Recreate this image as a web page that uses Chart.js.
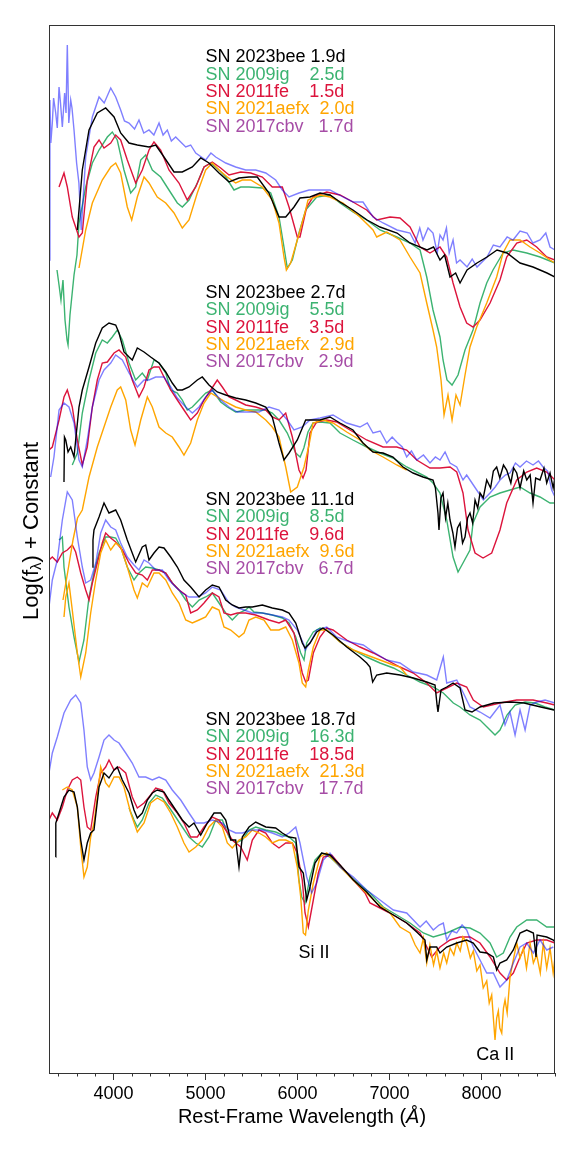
<!DOCTYPE html>
<html>
<head>
<meta charset="utf-8">
<script src="https://cdn.jsdelivr.net/npm/chart.js@4.4.1/dist/chart.umd.min.js"></script>
<style>
  html, body { margin: 0; padding: 0; background: #fff; }
  canvas { display: block; }
</style>
</head>
<body>
<canvas id="spectra" width="576" height="1152"></canvas>
<script>
// wavelength ticks
var xTicks = [4000, 5000, 6000, 7000, 8000];

// legend text, one block per epoch (black, green, red, orange, purple)
var legendRows = [
  ['SN 2023bee 1.9d', 'SN 2009ig    2.5d', 'SN 2011fe    1.5d', 'SN 2021aefx  2.0d', 'SN 2017cbv   1.7d'],
  ['SN 2023bee 2.7d', 'SN 2009ig    5.5d', 'SN 2011fe    3.5d', 'SN 2021aefx  2.9d', 'SN 2017cbv   2.9d'],
  ['SN 2023bee 11.1d', 'SN 2009ig    8.5d', 'SN 2011fe    9.6d', 'SN 2021aefx  9.6d', 'SN 2017cbv   6.7d'],
  ['SN 2023bee 18.7d', 'SN 2009ig    16.3d', 'SN 2011fe    18.5d', 'SN 2021aefx  21.3d', 'SN 2017cbv   17.7d']
];
var legendTop = [10.155, 7.80, 5.73, 3.53];

// [wavelength, log flux + constant]
var bee19 = [[3608,8.43],[3662,9.03],[3735,9.43],[3825,9.60],[3916,9.65],[4007,9.56],[4079,9.40],[4170,9.30],[4260,9.28],[4387,9.26],[4460,9.28],[4550,9.16],[4659,9.01],[4749,9.01],[4858,9.06],[4949,9.15],[5039,9.10],[5148,9.00],[5257,8.91],[5365,8.95],[5474,8.96],[5564,8.96],[5691,8.80],[5800,8.56],[5873,8.56],[5963,8.66],[6028,8.75],[6137,8.76],[6246,8.80],[6354,8.78],[6463,8.71],[6604,8.63],[6757,8.53],[6898,8.46],[7083,8.40],[7224,8.30],[7409,8.23],[7480,8.26],[7550,8.13],[7600,8.18],[7659,7.96],[7720,8.00],[7768,7.90],[7844,8.03],[7952,8.10],[8061,8.16],[8170,8.23],[8278,8.20],[8420,8.10],[8561,8.06],[8713,8.00],[8800,7.96]];
var ig25 = [[3387,8.03],[3409,7.88],[3430,7.73],[3452,7.93],[3474,7.53],[3496,7.33],[3507,7.28],[3528,7.58],[3550,7.78],[3572,7.98],[3604,8.18],[3626,8.50],[3699,8.86],[3771,9.10],[3844,9.23],[3934,9.36],[3988,9.41],[4042,9.33],[4115,9.03],[4188,8.80],[4242,8.86],[4297,9.13],[4351,9.18],[4423,9.03],[4514,8.96],[4604,8.83],[4695,8.70],[4749,8.66],[4822,8.73],[4912,8.90],[4985,9.06],[5058,9.10],[5148,9.03],[5221,8.96],[5311,8.83],[5384,8.86],[5474,8.86],[5619,8.85],[5710,8.80],[5800,8.56],[5854,8.26],[5890,8.05],[5945,8.13],[6017,8.40],[6090,8.63],[6210,8.76],[6354,8.78],[6463,8.70],[6604,8.61],[6753,8.53],[6898,8.43],[7080,8.36],[7224,8.30],[7333,8.23],[7406,7.96],[7474,7.63],[7550,7.36],[7583,7.13],[7626,6.93],[7681,6.88],[7746,6.98],[7822,7.23],[7909,7.43],[7985,7.70],[8058,7.90],[8126,8.03],[8235,8.20],[8344,8.23],[8493,8.20],[8637,8.16],[8800,8.10]];
var fe15 = [[3409,8.86],[3463,9.00],[3499,8.86],[3553,8.56],[3626,8.36],[3662,8.40],[3716,8.93],[3789,9.26],[3844,9.33],[3898,9.25],[3971,9.30],[4025,9.38],[4079,9.33],[4151,9.13],[4242,8.90],[4314,9.03],[4387,9.23],[4441,9.31],[4514,9.23],[4604,9.03],[4713,8.90],[4803,8.73],[4895,8.86],[4985,9.06],[5075,9.11],[5166,9.05],[5257,8.98],[5384,9.01],[5492,9.00],[5619,8.96],[5727,8.86],[5836,8.86],[5909,8.66],[5999,8.36],[6028,8.36],[6101,8.66],[6170,8.76],[6319,8.81],[6463,8.78],[6604,8.71],[6753,8.63],[6862,8.53],[7007,8.56],[7115,8.55],[7224,8.46],[7333,8.26],[7441,8.20],[7550,8.26],[7623,8.16],[7692,7.90],[7768,7.66],[7840,7.50],[7909,7.46],[7985,7.53],[8094,7.70],[8202,7.93],[8275,8.16],[8384,8.30],[8493,8.33],[8601,8.26],[8710,8.16],[8800,8.13]];
var aefx20 = [[3626,8.05],[3699,8.43],[3771,8.70],[3879,8.93],[3971,9.06],[4025,9.10],[4079,9.00],[4151,8.66],[4199,8.53],[4260,8.76],[4333,8.96],[4387,8.90],[4477,8.76],[4569,8.70],[4659,8.60],[4749,8.45],[4822,8.53],[4912,8.80],[5003,9.03],[5075,9.10],[5148,9.03],[5238,8.96],[5329,8.90],[5401,8.93],[5492,8.93],[5619,8.86],[5727,8.73],[5800,8.50],[5854,8.16],[5880,8.03],[5927,8.10],[5999,8.33],[6090,8.63],[6115,8.73],[6246,8.78],[6354,8.76],[6496,8.70],[6680,8.56],[6822,8.43],[6862,8.36],[6971,8.41],[7115,8.33],[7224,8.16],[7333,8.00],[7406,7.70],[7474,7.43],[7514,7.26],[7561,6.93],[7594,6.58],[7637,6.78],[7681,6.53],[7724,6.78],[7768,6.68],[7822,6.98],[7876,7.26],[7949,7.46],[8058,7.70],[8166,7.96],[8235,8.20],[8311,8.33],[8420,8.33],[8529,8.26],[8637,8.20],[8746,8.13],[8800,8.10]];
var cbv17 = [[3300,8.13],[3310,9.73],[3320,9.30],[3336,9.50],[3350,9.75],[3373,9.60],[3390,9.45],[3409,9.86],[3425,9.70],[3445,9.46],[3470,9.80],[3485,9.60],[3499,10.28],[3515,9.50],[3536,9.73],[3550,9.65],[3572,9.43],[3600,9.10],[3625,8.90],[3650,8.43],[3699,9.16],[3771,9.56],[3844,9.76],[3900,9.70],[3971,9.85],[4025,9.76],[4079,9.63],[4120,9.52],[4170,9.50],[4230,9.44],[4278,9.53],[4330,9.40],[4387,9.43],[4440,9.38],[4496,9.50],[4540,9.38],[4586,9.43],[4630,9.32],[4677,9.36],[4786,9.26],[4840,9.28],[4895,9.20],[5003,9.13],[5060,9.20],[5112,9.16],[5221,9.10],[5329,9.06],[5438,9.03],[5547,9.03],[5656,9.00],[5764,8.93],[5836,8.83],[5909,8.76],[6017,8.80],[6126,8.83],[6354,8.83],[6496,8.76],[6604,8.71],[6713,8.71],[6822,8.56],[6931,8.50],[7083,8.43],[7224,8.40],[7280,8.30],[7330,8.45],[7365,8.33],[7420,8.45],[7474,8.40],[7520,8.20],[7550,8.38],[7583,8.33],[7620,8.45],[7650,8.20],[7692,8.33],[7730,8.10],[7768,8.13],[7844,8.06],[7900,8.14],[7952,8.06],[8061,8.16],[8130,8.28],[8202,8.26],[8280,8.36],[8344,8.33],[8420,8.42],[8496,8.40],[8560,8.30],[8637,8.33],[8700,8.40],[8746,8.26],[8800,8.23]];

var bee27 = [[3463,5.91],[3468,6.36],[3482,6.33],[3507,6.21],[3536,6.26],[3572,6.16],[3590,6.33],[3626,6.66],[3662,6.83],[3735,7.06],[3808,7.30],[3879,7.45],[3952,7.50],[4025,7.48],[4061,7.40],[4115,7.21],[4170,7.16],[4205,7.13],[4260,7.25],[4333,7.21],[4405,7.16],[4496,7.10],[4569,7.01],[4640,6.90],[4695,6.83],[4749,6.83],[4822,6.86],[4912,6.93],[4966,6.96],[5039,6.88],[5129,6.81],[5221,6.78],[5329,6.75],[5438,6.73],[5547,6.70],[5656,6.66],[5727,6.56],[5800,6.30],[5854,6.13],[5909,6.20],[5999,6.33],[6090,6.53],[6137,6.53],[6246,6.53],[6354,6.56],[6463,6.50],[6604,6.43],[6713,6.30],[6822,6.21],[6931,6.20],[7039,6.16],[7148,6.06],[7257,6.00],[7365,5.96],[7474,5.93],[7500,5.85],[7528,5.60],[7539,5.43],[7560,5.75],[7583,5.80],[7610,5.55],[7635,5.70],[7659,5.53],[7690,5.40],[7713,5.26],[7740,5.45],[7768,5.50],[7795,5.30],[7822,5.36],[7850,5.55],[7876,5.60],[7905,5.50],[7931,5.73],[7960,5.65],[7985,5.80],[8020,5.75],[8058,5.93],[8100,5.85],[8130,6.02],[8166,6.06],[8200,5.95],[8240,6.08],[8275,6.03],[8320,5.90],[8350,6.05],[8384,6.00],[8420,5.85],[8460,6.02],[8493,5.93],[8530,5.98],[8561,5.70],[8590,5.95],[8637,5.93],[8680,6.05],[8710,5.90],[8746,6.00],[8780,5.85],[8800,5.96]];
var ig55 = [[3553,6.08],[3608,6.20],[3662,6.60],[3735,6.93],[3808,7.20],[3879,7.33],[3934,7.30],[3988,7.36],[4042,7.43],[4097,7.33],[4170,7.10],[4242,6.93],[4314,7.00],[4369,6.93],[4441,7.13],[4496,7.10],[4569,7.00],[4623,6.83],[4695,6.80],[4749,6.73],[4803,6.63],[4858,6.66],[4931,6.73],[5003,6.80],[5075,6.83],[5166,6.71],[5238,6.66],[5329,6.61],[5438,6.63],[5547,6.63],[5656,6.63],[5727,6.60],[5800,6.53],[5890,6.40],[5982,6.20],[6030,6.16],[6070,6.25],[6115,6.41],[6170,6.50],[6246,6.51],[6354,6.50],[6463,6.40],[6604,6.33],[6753,6.26],[6898,6.20],[7039,6.15],[7188,6.06],[7297,6.01],[7406,5.96],[7474,5.90],[7550,5.80],[7623,5.53],[7692,5.16],[7746,5.01],[7800,5.10],[7876,5.23],[7909,5.50],[7985,5.66],[8094,5.76],[8202,5.80],[8311,5.83],[8420,5.86],[8529,5.80],[8637,5.76],[8746,5.70],[8800,5.70]];
var fe35 = [[3300,6.23],[3336,6.26],[3409,6.53],[3463,6.76],[3499,6.83],[3553,6.66],[3608,6.33],[3662,6.08],[3716,6.26],[3771,6.66],[3825,6.93],[3879,7.10],[3934,7.11],[4007,7.20],[4061,7.23],[4134,7.16],[4205,6.93],[4278,6.76],[4333,6.86],[4387,7.03],[4441,7.06],[4496,7.06],[4550,6.96],[4623,6.83],[4695,6.73],[4767,6.63],[4840,6.53],[4912,6.60],[4985,6.73],[5058,6.83],[5129,6.93],[5184,6.86],[5257,6.76],[5329,6.73],[5438,6.68],[5547,6.66],[5656,6.63],[5727,6.56],[5800,6.53],[5873,6.60],[5945,6.36],[6017,6.03],[6061,5.95],[6094,6.03],[6137,6.40],[6210,6.51],[6319,6.53],[6427,6.51],[6572,6.43],[6753,6.33],[6931,6.26],[7080,6.26],[7188,6.23],[7297,6.13],[7441,6.05],[7550,6.05],[7659,6.06],[7732,6.01],[7800,5.80],[7855,5.43],[7931,5.20],[8018,5.15],[8112,5.20],[8202,5.43],[8275,5.70],[8384,5.93],[8493,6.01],[8601,6.05],[8710,6.01],[8800,5.93]];
var aefx29 = [[3452,4.73],[3507,5.03],[3561,5.33],[3610,5.55],[3662,5.63],[3735,5.96],[3825,6.26],[3898,6.46],[3971,6.66],[4042,6.83],[4079,6.86],[4134,6.73],[4188,6.43],[4235,6.28],[4297,6.53],[4369,6.76],[4423,6.66],[4496,6.46],[4569,6.40],[4640,6.36],[4713,6.26],[4767,6.18],[4840,6.30],[4912,6.53],[4985,6.70],[5058,6.80],[5129,6.76],[5221,6.71],[5329,6.66],[5438,6.63],[5547,6.61],[5656,6.53],[5727,6.46],[5800,6.36],[5873,6.06],[5927,5.81],[5999,5.86],[6072,6.06],[6126,6.28],[6170,6.50],[6278,6.53],[6387,6.50],[6536,6.41],[6680,6.33],[6789,6.23],[6931,6.16],[7080,6.08],[7188,6.03]];
var cbv29 = [[3318,5.96],[3354,6.16],[3409,6.63],[3463,6.70],[3517,6.66],[3572,6.50],[3626,6.13],[3662,6.06],[3716,6.33],[3771,6.66],[3844,6.93],[3898,7.03],[3971,7.10],[4025,7.18],[4097,7.13],[4170,7.00],[4260,6.86],[4333,6.93],[4387,6.93],[4460,6.96],[4550,6.96],[4623,6.86],[4695,6.75],[4786,6.66],[4858,6.60],[4931,6.66],[5003,6.76],[5075,6.83],[5166,6.73],[5257,6.66],[5347,6.61],[5474,6.61],[5583,6.61],[5691,6.66],[5800,6.63],[5890,6.53],[5963,6.43],[6053,6.46],[6137,6.53],[6246,6.55],[6387,6.58],[6536,6.50],[6680,6.46],[6760,6.50],[6822,6.40],[6900,6.42],[6971,6.30],[7030,6.36],[7080,6.31],[7140,6.26],[7188,6.16],[7240,6.22],[7297,6.13],[7370,6.18],[7441,6.10],[7500,6.16],[7550,6.13],[7605,6.21],[7659,6.10],[7732,6.06],[7800,5.93],[7840,5.98],[7876,5.93],[7949,5.83],[8021,5.73],[8094,5.80],[8150,5.86],[8202,5.93],[8260,5.98],[8311,6.00],[8370,6.10],[8420,6.06],[8490,6.12],[8561,6.08],[8620,6.12],[8670,6.06],[8720,6.02],[8764,5.83],[8800,5.76]];

var bee111 = [[3771,5.06],[3778,5.33],[3789,5.43],[3844,5.56],[3898,5.70],[3952,5.60],[4025,5.63],[4079,5.53],[4151,5.33],[4242,5.11],[4314,5.26],[4351,5.28],[4387,5.13],[4441,5.20],[4496,5.26],[4550,5.25],[4623,5.16],[4695,5.06],[4767,4.93],[4840,4.86],[4931,4.76],[5003,4.83],[5075,4.88],[5148,4.86],[5221,4.73],[5292,4.68],[5365,4.65],[5438,4.66],[5510,4.66],[5619,4.68],[5727,4.65],[5836,4.63],[5909,4.60],[5982,4.50],[6053,4.30],[6083,4.25],[6137,4.30],[6210,4.41],[6278,4.45],[6387,4.38],[6536,4.26],[6680,4.16],[6753,4.10],[6789,4.06],[6818,3.91],[6862,3.98],[6971,4.00],[7115,3.98],[7260,3.95],[7406,3.91],[7496,3.88],[7518,3.68],[7528,3.61],[7561,3.83],[7623,3.86],[7692,3.90],[7768,3.85],[7822,3.63],[7898,3.61],[7985,3.66],[8137,3.70],[8319,3.71],[8464,3.70],[8645,3.66],[8789,3.63]];
var ig85 = [[3409,5.33],[3445,5.36],[3463,5.06],[3517,4.66],[3572,4.36],[3626,4.11],[3680,4.33],[3735,4.76],[3789,5.00],[3844,5.20],[3916,5.36],[3971,5.36],[4025,5.35],[4079,5.26],[4151,5.06],[4224,4.93],[4278,5.00],[4351,5.06],[4423,5.05],[4496,5.03],[4569,5.00],[4640,4.90],[4713,4.83],[4786,4.73],[4858,4.66],[4931,4.73],[5003,4.76],[5075,4.80],[5148,4.70],[5221,4.60],[5292,4.53],[5365,4.60],[5438,4.63],[5474,4.66],[5528,4.61],[5619,4.60],[5727,4.58],[5836,4.55],[5909,4.50],[5982,4.36],[6036,4.20],[6072,4.13],[6101,4.30],[6173,4.41],[6246,4.45],[6319,4.43],[6463,4.31],[6608,4.23],[6753,4.16],[6898,4.10],[7043,4.05],[7188,3.98],[7333,3.91],[7477,3.86],[7586,3.80],[7695,3.70],[7768,3.66],[7876,3.58],[7985,3.53],[8072,3.45],[8148,3.38],[8202,3.43],[8278,3.58],[8366,3.68],[8475,3.71],[8583,3.70],[8692,3.66],[8800,3.63]];
var fe96 = [[3300,5.13],[3336,5.16],[3390,5.11],[3445,5.20],[3499,5.23],[3553,5.28],[3590,5.21],[3645,5.00],[3699,4.83],[3735,4.73],[3771,4.90],[3825,5.10],[3879,5.30],[3916,5.40],[3971,5.35],[4025,5.31],[4097,5.23],[4170,5.10],[4242,5.00],[4314,4.98],[4369,4.93],[4423,5.03],[4496,5.03],[4569,5.00],[4640,4.90],[4713,4.83],[4786,4.78],[4840,4.60],[4912,4.63],[4985,4.70],[5075,4.80],[5148,4.76],[5202,4.60],[5275,4.58],[5347,4.60],[5438,4.60],[5547,4.58],[5691,4.53],[5800,4.50],[5873,4.53],[5963,4.40],[6053,4.00],[6090,3.91],[6119,3.93],[6173,4.20],[6246,4.36],[6319,4.45],[6387,4.43],[6536,4.33],[6680,4.26],[6825,4.20],[6971,4.13],[7115,4.06],[7260,4.00],[7406,3.90],[7514,3.80],[7623,3.85],[7732,3.90],[7840,3.86],[7912,3.73],[8021,3.66],[8202,3.70],[8384,3.73],[8561,3.73],[8710,3.70],[8800,3.68]];
var aefx96 = [[3463,4.56],[3482,4.76],[3517,4.90],[3553,4.63],[3608,4.20],[3645,3.96],[3699,4.20],[3753,4.60],[3808,4.93],[3862,5.20],[3916,5.33],[3971,5.23],[4025,5.30],[4079,5.26],[4151,5.06],[4224,4.83],[4260,4.75],[4314,4.90],[4369,4.86],[4441,5.00],[4496,5.00],[4569,4.93],[4640,4.80],[4713,4.70],[4786,4.53],[4858,4.50],[4931,4.53],[5003,4.56],[5075,4.66],[5148,4.63],[5202,4.46],[5275,4.43],[5365,4.36],[5420,4.40],[5474,4.53],[5547,4.56],[5637,4.53],[5710,4.43],[5800,4.43],[5873,4.46],[5945,4.33],[6017,4.10],[6053,3.90],[6090,3.86],[6119,4.03],[6173,4.26],[6246,4.43],[6319,4.43],[6463,4.31],[6608,4.23],[6753,4.18],[6898,4.13],[7043,4.08],[7115,4.06],[7188,3.98]];
var cbv67 = [[3300,4.66],[3336,4.93],[3390,5.13],[3445,5.53],[3499,5.81],[3553,5.73],[3608,5.36],[3662,5.06],[3699,4.90],[3753,4.93],[3808,5.10],[3862,5.40],[3916,5.53],[3971,5.46],[4025,5.43],[4079,5.30],[4151,5.16],[4224,5.08],[4278,5.03],[4333,5.13],[4387,5.10],[4460,5.03],[4532,5.03],[4604,4.93],[4677,4.86],[4749,4.80],[4822,4.76],[4912,4.76],[5003,4.80],[5075,4.86],[5166,4.83],[5257,4.70],[5329,4.66],[5420,4.63],[5510,4.60],[5619,4.60],[5727,4.58],[5836,4.56],[5909,4.53],[5999,4.43],[6072,4.28],[6083,4.23],[6137,4.30],[6210,4.43],[6319,4.46],[6427,4.36],[6572,4.31],[6716,4.28],[6825,4.21],[6971,4.13],[7115,4.10],[7260,4.01],[7406,3.98],[7514,3.93],[7586,4.16],[7623,3.90],[7732,3.93],[7804,3.80],[7876,3.66],[7985,3.61],[8094,3.55],[8202,3.68],[8257,3.48],[8311,3.61],[8366,3.38],[8420,3.63],[8475,3.43],[8529,3.68],[8605,3.71],[8692,3.73],[8800,3.70]];

var bee187 = [[3373,2.16],[3374,2.50],[3409,2.60],[3463,2.76],[3517,2.83],[3572,2.81],[3608,2.66],[3645,2.33],[3680,2.13],[3716,2.30],[3753,2.40],[3789,2.43],[3844,2.86],[3898,3.00],[3952,2.95],[4007,3.03],[4042,3.06],[4097,2.93],[4170,2.80],[4224,2.63],[4260,2.55],[4314,2.60],[4369,2.73],[4423,2.80],[4477,2.83],[4550,2.81],[4604,2.73],[4677,2.63],[4749,2.53],[4822,2.46],[4876,2.50],[4949,2.38],[5021,2.50],[5094,2.60],[5166,2.60],[5221,2.53],[5275,2.33],[5329,2.33],[5365,2.06],[5401,2.36],[5474,2.46],[5547,2.51],[5656,2.46],[5764,2.45],[5836,2.40],[5909,2.36],[5982,2.35],[6017,2.06],[6064,2.00],[6101,1.73],[6137,1.86],[6191,2.10],[6264,2.20],[6354,2.18],[6463,2.08],[6608,1.93],[6753,1.81],[6898,1.66],[7043,1.58],[7188,1.50],[7297,1.41],[7387,1.33],[7406,1.13],[7441,1.26],[7514,1.26],[7550,1.20],[7623,1.26],[7732,1.30],[7840,1.33],[7912,1.30],[7985,1.21],[8058,1.20],[8130,1.16],[8166,1.03],[8202,1.10],[8275,1.13],[8347,1.23],[8420,1.40],[8493,1.43],[8565,1.40],[8594,1.16],[8605,1.38],[8710,1.36],[8782,1.33],[8800,1.31]];
var ig163 = [[4170,2.65],[4224,2.53],[4260,2.46],[4314,2.53],[4387,2.70],[4460,2.78],[4532,2.75],[4604,2.66],[4677,2.56],[4749,2.46],[4822,2.36],[4895,2.30],[4966,2.26],[5039,2.36],[5112,2.53],[5184,2.53],[5257,2.36],[5329,2.30],[5401,2.33],[5474,2.43],[5547,2.46],[5656,2.43],[5764,2.41],[5836,2.38],[5909,2.36],[5982,2.30],[6017,1.93],[6047,1.76],[6083,1.70],[6137,1.96],[6191,2.13],[6264,2.20],[6354,2.16],[6499,2.03],[6645,1.91],[6789,1.80],[6934,1.66],[7080,1.58],[7224,1.50],[7369,1.40],[7477,1.36],[7623,1.40],[7768,1.46],[7876,1.45],[7985,1.40],[8094,1.30],[8166,1.16],[8238,1.20],[8311,1.36],[8384,1.46],[8493,1.53],[8601,1.53],[8710,1.46],[8800,1.46]];
var fe185 = [[3300,2.53],[3336,2.60],[3390,2.53],[3445,2.66],[3499,2.83],[3553,2.93],[3608,2.96],[3645,2.93],[3680,2.66],[3716,2.46],[3753,2.43],[3808,2.76],[3862,3.00],[3916,3.06],[3952,3.13],[4007,3.03],[4061,3.06],[4134,3.00],[4205,2.76],[4260,2.65],[4333,2.70],[4405,2.78],[4460,2.85],[4532,2.83],[4604,2.70],[4695,2.60],[4767,2.50],[4840,2.36],[4912,2.36],[4985,2.46],[5075,2.56],[5148,2.53],[5221,2.43],[5292,2.33],[5384,2.26],[5455,2.13],[5510,2.33],[5583,2.43],[5656,2.40],[5727,2.30],[5800,2.25],[5873,2.30],[5945,2.30],[5999,2.20],[6053,1.93],[6083,1.60],[6119,1.46],[6173,1.73],[6227,2.00],[6282,2.16],[6373,2.18],[6481,2.06],[6608,1.93],[6735,1.80],[6789,1.70],[6898,1.65],[7043,1.58],[7188,1.50],[7333,1.40],[7460,1.16],[7550,1.26],[7659,1.33],[7768,1.36],[7876,1.36],[7985,1.30],[8094,1.16],[8202,1.00],[8275,0.93],[8347,1.00],[8420,1.16],[8493,1.30],[8601,1.33],[8710,1.33],[8800,1.30]];
var aefx213 = [[3445,2.83],[3499,2.86],[3553,2.83],[3608,2.66],[3645,2.26],[3680,1.96],[3716,2.06],[3753,2.36],[3789,2.50],[3825,2.76],[3862,3.06],[3916,2.90],[3952,2.86],[4007,2.96],[4061,2.96],[4115,2.86],[4188,2.60],[4260,2.41],[4333,2.50],[4405,2.70],[4477,2.75],[4550,2.71],[4623,2.60],[4695,2.46],[4767,2.30],[4822,2.21],[4895,2.26],[4966,2.33],[5039,2.46],[5112,2.53],[5184,2.46],[5238,2.30],[5292,2.25],[5365,2.33],[5438,2.36],[5510,2.43],[5583,2.40],[5656,2.36],[5727,2.30],[5800,2.33],[5873,2.33],[5945,2.30],[5999,2.06],[6036,1.76],[6064,1.40],[6088,1.38],[6119,1.63],[6173,1.90],[6246,2.16],[6319,2.20],[6427,2.10],[6572,1.96],[6716,1.83],[6862,1.70],[7007,1.60],[7115,1.46],[7224,1.40],[7280,1.28],[7333,1.20],[7370,1.35],[7406,1.10],[7440,1.28],[7480,1.08],[7514,1.22],[7550,1.05],[7590,1.20],[7623,1.10],[7660,1.25],[7700,1.18],[7732,1.30],[7770,1.22],[7800,1.36],[7840,1.30],[7880,1.15],[7912,1.22],[7950,1.02],[7985,1.08],[8020,0.85],[8058,0.92],[8085,0.70],[8112,0.78],[8130,0.55],[8148,0.33],[8166,0.55],[8184,0.62],[8200,0.45],[8221,0.40],[8240,0.65],[8257,0.73],[8280,0.60],[8311,0.96],[8340,1.10],[8384,1.30],[8420,1.15],[8457,1.25],[8490,1.05],[8529,1.30],[8565,1.10],[8601,1.18],[8640,1.00],[8673,1.30],[8710,1.05],[8746,1.25],[8780,1.00],[8800,1.16]];
var cbv177 = [[3300,3.00],[3336,3.20],[3390,3.36],[3463,3.60],[3536,3.73],[3590,3.78],[3645,3.70],[3680,3.43],[3716,3.06],[3753,2.93],[3789,3.00],[3844,3.16],[3898,3.33],[3952,3.38],[4007,3.33],[4061,3.30],[4134,3.20],[4205,3.10],[4278,2.96],[4351,2.96],[4423,2.93],[4496,2.96],[4569,2.93],[4640,2.83],[4732,2.73],[4822,2.60],[4895,2.50],[4985,2.50],[5075,2.53],[5184,2.50],[5257,2.43],[5329,2.40],[5401,2.40],[5510,2.43],[5619,2.43],[5727,2.40],[5836,2.36],[5909,2.40],[5982,2.46],[6028,2.30],[6101,1.96],[6155,1.80],[6210,1.90],[6282,2.13],[6354,2.20],[6463,2.06],[6608,1.96],[6753,1.83],[6898,1.73],[7043,1.63],[7188,1.60],[7333,1.46],[7400,1.52],[7477,1.43],[7540,1.48],[7586,1.50],[7623,1.33],[7680,1.42],[7732,1.40],[7790,1.48],[7840,1.43],[7912,1.26],[7985,1.13],[8058,1.00],[8130,1.00],[8202,0.86],[8275,0.93],[8347,1.10],[8420,1.26],[8493,1.30],[8565,1.20],[8637,1.33],[8710,1.23],[8782,1.26]];

// spectrum colours, label colours
var lineColors = ['#000000', '#3cb371', '#dc143c', '#ffa500', 'rgba(0,0,255,0.5)'];
var textColors = ['#000000', '#3cb371', '#dc143c', '#ffa500', 'rgba(128,0,128,0.7)'];

var FONT = '"Liberation Sans", Arial, sans-serif';

function init(){
  var epochs = [
    [bee19, ig25, fe15, aefx20, cbv17],
    [bee27, ig55, fe35, aefx29, cbv29],
    [bee111, ig85, fe96, aefx96, cbv67],
    [bee187, ig163, fe185, aefx213, cbv177]
  ];
  // black on top, then blue, orange, red, green underneath
  var drawOrder = [0, 4, 3, 2, 1];

  var datasets = [];
  epochs.forEach(function(group){
    group.forEach(function(spec, i){
      datasets.push({
        data: spec.map(function(p){ return {x: p[0], y: p[1]}; }),
        borderColor: lineColors[i],
        borderWidth: 1.4,
        pointRadius: 0,
        fill: false,
        tension: 0,
        order: drawOrder[i]
      });
    });
  });

  createSpectraChart(datasets);
}

var decor = {
  id: 'decor',
  afterDraw: function(chart){
    var ctx = chart.ctx;
    var a = chart.chartArea;
    var x = chart.scales.x;
    var y = chart.scales.y;
    ctx.save();

    // frame
    ctx.strokeStyle = '#333';
    ctx.lineWidth = 1;
    ctx.strokeRect(a.left + 0.5, a.top + 0.5, a.right - a.left - 1, a.bottom - a.top);

    // minor ticks every 200 A
    ctx.beginPath();
    for (var w = 3400; w <= 8800; w += 200) {
      if (w % 1000 === 0) continue;
      var px = Math.round(x.getPixelForValue(w)) + 0.5;
      ctx.moveTo(px, a.bottom);
      ctx.lineTo(px, a.bottom + 3.5);
    }
    ctx.stroke();

    // legend blocks
    ctx.font = '18px ' + FONT;
    ctx.textAlign = 'left';
    ctx.textBaseline = 'middle';
    legendRows.forEach(function(rows, g){
      var top = y.getPixelForValue(legendTop[g]);
      rows.forEach(function(t, i){
        ctx.fillStyle = textColors[i];
        ctx.fillText(t, x.getPixelForValue(5000), top + i * 17.3);
      });
    });

    // line ids
    ctx.fillStyle = '#000';
    ctx.textAlign = 'center';
    ctx.fillText('Si II', x.getPixelForValue(6180), y.getPixelForValue(1.20));
    ctx.fillText('Ca II', x.getPixelForValue(8150), y.getPixelForValue(0.18));

    // x title with italic angstrom
    var cx = (a.left + a.right) / 2;
    var ty = 1117;
    ctx.font = '20px ' + FONT;
    var p1 = 'Rest-Frame Wavelength (';
    var p3 = ')';
    var w1 = ctx.measureText(p1).width;
    var w3 = ctx.measureText(p3).width;
    ctx.font = 'italic 20px ' + FONT;
    var w2 = ctx.measureText('Å').width;
    var sx = cx - (w1 + w2 + w3) / 2;
    ctx.textAlign = 'left';
    ctx.font = '20px ' + FONT;
    ctx.fillText(p1, sx, ty);
    ctx.font = 'italic 20px ' + FONT;
    ctx.fillText('Å', sx + w1, ty);
    ctx.font = '20px ' + FONT;
    ctx.fillText(p3, sx + w1 + w2, ty);

    // y title with subscript lambda
    ctx.translate(32, 531);
    ctx.rotate(-Math.PI / 2);
    var q1 = 'Log(f';
    var q3 = ') + Constant';
    ctx.font = '22px ' + FONT;
    var v1 = ctx.measureText(q1).width;
    var v3 = ctx.measureText(q3).width;
    ctx.font = '15px ' + FONT;
    var v2 = ctx.measureText('λ').width;
    var s = -(v1 + v2 + v3) / 2;
    ctx.font = '22px ' + FONT;
    ctx.fillText(q1, s, 0);
    ctx.font = '15px ' + FONT;
    ctx.fillText('λ', s + v1, 5);
    ctx.font = '22px ' + FONT;
    ctx.fillText(q3, s + v1 + v2, 0);

    ctx.restore();
  }
};

function createSpectraChart(datasets){
  var element = document.getElementById('spectra').getContext('2d');

  var chart = new Chart(element, {
    type: 'line',
    data: { datasets: datasets },
    options: {
      responsive: false,
      animation: false,
      layout: { padding: { top: 25, right: 21, left: 0, bottom: 0 } },
      plugins: { legend: { display: false }, tooltip: { enabled: false } },
      scales: {
        x: {
          type: 'linear',
          min: 3300,
          max: 8800,
          afterBuildTicks: function(s){ s.ticks = xTicks.map(function(v){ return {value: v}; }); },
          afterFit: function(s){ s.height = 79; },
          ticks: {
            color: '#000',
            padding: 3,
            maxRotation: 0,
            font: { size: 18, family: FONT },
            callback: function(v){ return String(v); }
          },
          grid: { drawOnChartArea: false, tickLength: 7, tickColor: '#333', tickWidth: 1 },
          border: { display: false }
        },
        y: {
          min: 0,
          max: 10.48,
          afterFit: function(s){ s.width = 49; },
          ticks: { display: false },
          grid: { display: false },
          border: { display: false }
        }
      }
    },
    plugins: [decor]
  });
}

init();
</script>
</body>
</html>
